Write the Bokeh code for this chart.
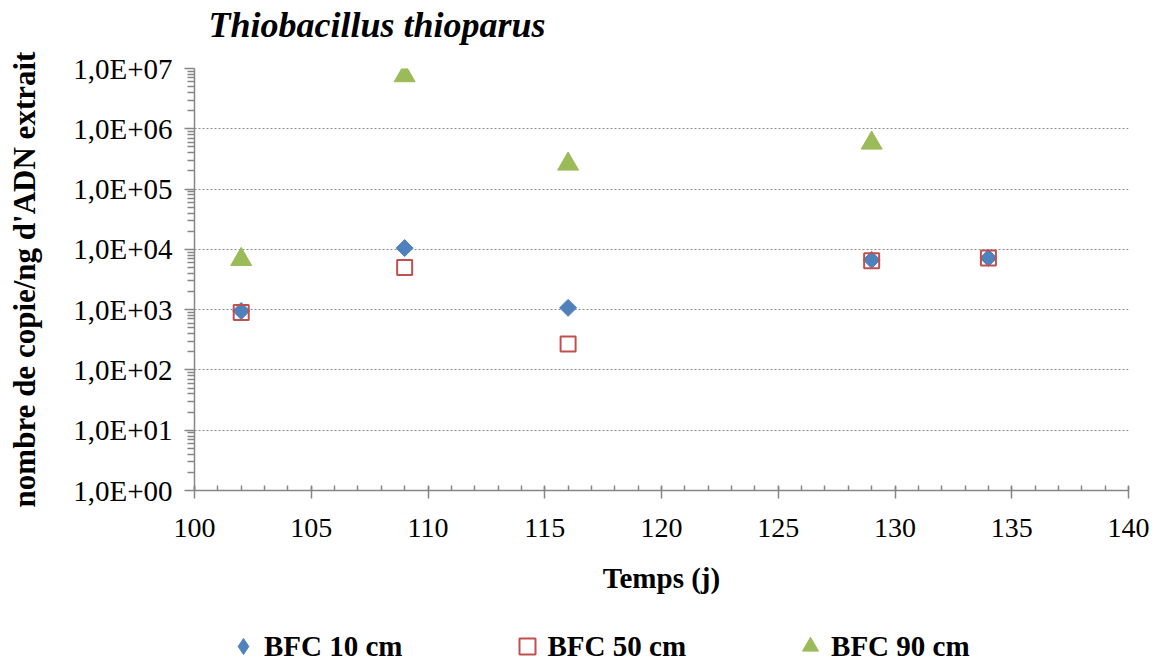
import numpy as np
from bokeh.plotting import figure
from bokeh.layouts import column
from bokeh.core.properties import value
from bokeh.models import (Range1d, SingleIntervalTicker, FixedTicker, CustomJSTickFormatter,
                          Legend, LegendItem)
from bokeh.embed import file_html
from bokeh.resources import INLINE

# ---- data ----
days_10 = [102, 109, 116, 129, 134]
bfc_10 = [950, 10500, 1070, 6700, 7200]
days_50 = [102, 109, 116, 129, 134]
bfc_50 = [900, 5000, 270, 6500, 7200]
days_90 = [102, 109, 116, 129]
bfc_90 = [6800, 7.6e6, 2.6e5, 5.8e5]
series_labels = ["BFC 10 cm", "BFC 50 cm", "BFC 90 cm"]
title_text = "Thiobacillus thioparus"
x_label = "Temps (j)"
y_label = "nombre de copie/ng d'ADN extrait"

BLUE = "#4F81BD"
RED = "#C0504D"
GREEN = "#9BBB59"
AXIS = "#868686"
FONT = "Liberation Serif"

W = 1155
H_TOP, H_MAIN = 45, 569
H_LEG = 661 - H_TOP - H_MAIN
FRAME_TOP = 68 - H_TOP


def strip(height):
    f = figure(width=W, height=height, output_backend="svg", toolbar_location=None,
               x_range=Range1d(0, 1), y_range=Range1d(0, 1),
               x_axis_type=None, y_axis_type=None, min_border=0)
    f.outline_line_color = None
    f.background_fill_color = "white"
    f.border_fill_color = "white"
    return f


# ---- title strip (frame aligns with the chart frame) ----
ts = strip(H_TOP)
ts.text(x=[0], y=[0.45], text=[title_text], x_offset=14, text_baseline="middle",
        text_align="left", text_font=value(FONT), text_font_style="bold italic",
        text_font_size="36px", text_color="black")

# ---- main chart ----
p = figure(width=W, height=H_MAIN, output_backend="svg", toolbar_location=None,
           x_range=Range1d(100, 140), y_range=Range1d(1, 1e7), y_axis_type="log",
           min_border_left=194, min_border_right=W - 1128, min_border_top=FRAME_TOP,
           min_border_bottom=H_MAIN - FRAME_TOP - 422)
p.title = None
p.outline_line_color = None
p.background_fill_color = "white"
p.border_fill_color = "white"

# x axis
xa = p.xaxis[0]
xa.ticker = SingleIntervalTicker(interval=5, num_minor_ticks=5)
xa.axis_line_color = AXIS
xa.axis_line_width = 1.5
xa.major_tick_line_color = AXIS
xa.major_tick_line_width = 1.5
xa.minor_tick_line_color = AXIS
xa.minor_tick_line_width = 1.5
xa.major_tick_in = 4
xa.major_tick_out = 8
xa.minor_tick_in = 5
xa.minor_tick_out = 0
xa.major_label_text_font = FONT
xa.major_label_text_font_size = "28px"
xa.major_label_text_color = "black"
xa.major_label_standoff = 20
xa.axis_label = x_label
xa.axis_label_text_font = FONT
xa.axis_label_text_font_style = "bold"
xa.axis_label_text_font_size = "29px"
xa.axis_label_text_color = "black"
xa.axis_label_standoff = 22

# y axis
decades = [10.0 ** k for k in range(0, 8)]
minors = [m * 10.0 ** k for k in range(0, 7) for m in range(2, 10)]
ya = p.yaxis[0]
ya.ticker = FixedTicker(ticks=decades, minor_ticks=minors)
ya.formatter = CustomJSTickFormatter(code="""
const e = Math.round(Math.log10(tick));
return "1,0E+" + (e < 10 ? "0" + e : "" + e);
""")
ya.axis_line_color = AXIS
ya.axis_line_width = 1.5
ya.major_tick_line_color = AXIS
ya.major_tick_line_width = 1.5
ya.minor_tick_line_color = AXIS
ya.minor_tick_line_width = 1.5
ya.major_tick_in = 0
ya.major_tick_out = 10
ya.minor_tick_in = 0
ya.minor_tick_out = 7
ya.major_label_text_font = FONT
ya.major_label_text_font_size = "29px"
ya.major_label_text_color = "black"
ya.major_label_standoff = 12
ya.axis_label = y_label
ya.axis_label_text_font = FONT
ya.axis_label_text_font_style = "bold"
ya.axis_label_text_font_size = "31px"
ya.axis_label_text_color = "black"
ya.axis_label_standoff = 28

# grid
p.xgrid.visible = False
p.ygrid.ticker = FixedTicker(ticks=decades)
p.ygrid.grid_line_color = "#8c8c8c"
p.ygrid.grid_line_width = 1.2
p.ygrid.grid_line_dash = "2 2"

# data
r1 = p.scatter(days_10, bfc_10, marker="square", angle=np.pi / 4, size=12,
               fill_color=BLUE, line_color=BLUE)
r2 = p.scatter(days_50, bfc_50, marker="square", size=15, fill_color=None,
               line_color=RED, line_width=2)
r3 = p.scatter(days_90, bfc_90, marker="triangle", size=21, fill_color=GREEN,
               line_color=GREEN)

# ---- legend strip (frame aligns with the chart frame) ----
lg = strip(H_LEG)
# proxy renderers placed outside the visible range, used only for legend glyphs
l1 = lg.scatter([-5], [-5], marker="diamond", fill_color=BLUE, line_color=BLUE)
l2 = lg.scatter([-5], [-5], marker="square", fill_color=None, line_color=RED, line_width=2)
l3 = lg.scatter([-5], [-5], marker="triangle", fill_color=GREEN, line_color=GREEN)

legend = Legend(items=[LegendItem(label=series_labels[0], renderers=[l1]),
                       LegendItem(label=series_labels[1], renderers=[l2]),
                       LegendItem(label=series_labels[2], renderers=[l3])],
                orientation="horizontal", location=(28, -5),
                glyph_width=42, glyph_height=40, label_standoff=0, spacing=103,
                padding=0, margin=0, border_line_color=None, background_fill_alpha=0,
                label_text_font=FONT, label_text_font_style="bold",
                label_text_font_size="29px", label_text_color="black")
lg.add_layout(legend)

layout = column(ts, p, lg, spacing=0)
open("out.html", "w").write(file_html(layout, INLINE))
